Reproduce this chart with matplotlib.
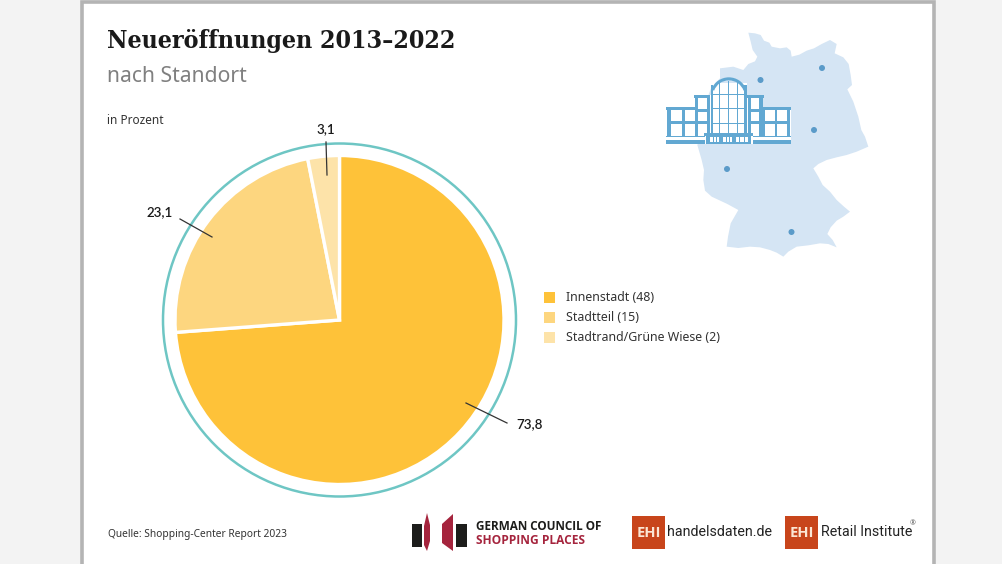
import matplotlib
matplotlib.use("Agg")
import matplotlib.pyplot as plt
from matplotlib.patches import Rectangle, Polygon, Circle, Wedge
from matplotlib.lines import Line2D

categories = ["Innenstadt (48)", "Stadtteil (15)", "Stadtrand/Grüne Wiese (2)"]
values = [73.8, 23.1, 3.1]
value_labels = ["73,8", "23,1", "3,1"]
colors = ["#fec239", "#fdd67f", "#fde3a9"]

W, H = 1003, 564
SANS = "Noto Sans"
fig = plt.figure(figsize=(W / 100, H / 100), dpi=100, facecolor="#f3f3f3")

bg = fig.add_axes([0, 0, 1, 1], zorder=0)
bg.set_xlim(0, W); bg.set_ylim(H, 0); bg.axis("off")
bg.add_patch(Rectangle((82.5, 1.5), 851.5, 570, fc="white", ec="#b4b4b4", lw=2.6))

# Pie
cx, cy, R = 339.5, 320.0, 164.5
ax = fig.add_axes([(cx - R) / W, 1 - (cy + R) / H, 2 * R / W, 2 * R / H], zorder=2)
ax.pie(values, colors=colors, startangle=90, counterclock=False, radius=1,
       wedgeprops=dict(edgecolor="white", linewidth=2.4))
ax.set_xlim(-1, 1); ax.set_ylim(-1, 1)

fg = fig.add_axes([0, 0, 1, 1], zorder=3)
fg.set_xlim(0, W); fg.set_ylim(H, 0); fg.axis("off"); fg.patch.set_alpha(0)

fg.add_patch(Circle((cx, cy), 176.5, fc="none", ec="#6ec6c4", lw=1.8))

# Titles
fg.text(107, 41, "Neueröffnungen 2013–2022", family="DejaVu Serif", stretch="condensed",
        weight="bold", fontsize=17.95, color="#1a1a1a", va="center", ha="left")
fg.text(107, 76, "nach Standort", family=SANS, fontsize=15.2, color="#808080", va="center")
fg.text(107, 121, "in Prozent", family=SANS, fontsize=8.5, color="#333333", va="center")
fg.text(108, 534.5, "Quelle: Shopping-Center Report 2023", family=SANS, fontsize=7.35,
        color="#333333", va="center")

# Value labels and leaders
leaders = [((466, 403), (507, 423)), ((180, 219), (212, 237)), ((326, 142), (327, 175))]
label_pos = [(516, 424), (147, 212), (316, 129)]
for txt, (a, b), (lx, ly) in zip(value_labels, leaders, label_pos):
    fg.add_line(Line2D([a[0], b[0]], [a[1], b[1]], color="#333333", lw=0.9))
    fg.text(lx, ly, txt, family="Lato", fontsize=9.6, weight=600, color="#1a1a1a", va="center")

# Legend
for i, (c, t) in enumerate(zip(colors, categories)):
    y = 297 + 20 * i
    fg.add_patch(Rectangle((544, y - 5.5), 11, 11, fc=c, ec="none"))
    fg.text(566, y + 0.5, t, family=SANS, fontsize=8.9, color="#333333", va="center")

# Germany silhouette (decoration; traced in zoom coordinates)
zoom_outline = [(325,38),(345,40),(362,45),(372,62),(388,68),(395,80),(420,85),(440,82),(452,92),
    (455,110),(478,104),(500,92),(522,85),(545,72),(570,60),(590,72),(584,100),(610,112),(626,132),
    (632,165),(636,195),(622,208),(640,245),(655,290),(664,330),(675,350),(685,380),(650,395),
    (620,405),(590,412),(560,420),(535,432),(520,445),(535,470),(548,495),(570,515),(590,540),
    (612,560),(630,575),(610,590),(590,602),(572,622),(562,642),(578,660),(590,682),(565,672),
    (540,670),(505,676),(470,680),(445,695),(430,710),(410,698),(390,690),(360,682),(330,680),
    (295,684),(260,680),(264,650),(272,610),(295,570),(262,552),(215,530),(195,512),(190,480),
    (192,450),(185,420),(172,375),(190,330),(180,290),(215,200),(240,175),(240,145),(280,140),
    (310,150),(325,132),(345,124),(352,110),(338,90),(332,65)]
outline = [(640 + x / 3, 20 + y / 3) for x, y in zoom_outline]
fg.add_patch(Polygon(outline, closed=True, fc="#d5e5f4", ec="none"))
for x, y in [(760.5, 80), (822, 68), (814, 130), (727, 169), (791.5, 232)]:
    fg.add_patch(Circle((x, y), 3, fc="#5b9bc9", ec="none"))

# Building icon, given in the crop's coordinates
B = "#62a8d2"
def z(x0, y0, x1, y1, c=B, o=4):
    fg.add_patch(Rectangle((640 + x0 / 3, 20 + y0 / 3), (x1 - x0) / 3, (y1 - y0) / 3,
                           fc=c, ec="none", zorder=o))
z(78, 262, 452, 372, "white", 4)
z(163, 226, 370, 350, "white", 4)
z(213, 190, 320, 350, "white", 4)
# wings
z(78, 262, 165, 271); z(370, 262, 452, 271)
z(82, 262, 94, 350); z(125, 262, 134, 350); z(365, 262, 374, 350); z(404, 262, 412, 350); z(441, 262, 450, 350)
z(85, 304, 165, 312); z(370, 304, 448, 312)
# towers
z(161, 226, 210, 234); z(322, 226, 371, 234)
z(164, 226, 175, 350); z(200, 226, 210, 350); z(323, 226, 332, 350); z(358, 226, 369, 350)
z(170, 268, 205, 275); z(326, 268, 362, 275); z(170, 304, 205, 312); z(326, 304, 362, 312)
# rotunda
z(213, 195, 220, 345); z(313, 195, 320, 345)
for x in (237, 264, 291):
    z(x, 182, x + 4, 345)
for y in (221, 264, 309):
    z(216, y, 318, y + 4)
fg.add_patch(Wedge((640 + 266.5 / 3, 20 + 228 / 3), 53 / 3 + 1.0, 200, 340, width=3.0,
                   fc=B, ec="none", zorder=4))
# base and entrance
z(78, 348, 195, 351); z(340, 348, 452, 351)
z(78, 360, 195, 372); z(340, 360, 452, 372)
z(193, 340, 338, 348)
z(198, 346, 206, 372); z(326, 346, 334, 372)
z(206, 348, 326, 352); z(206, 366, 326, 372)
for x in (206, 240, 246, 280, 286, 326):
    z(x - 3, 350, x + 3, 372)
for x in (218, 228, 258, 268, 298, 312):
    z(x, 350, x + 3, 368)

# Logos
def logo_rect(x, y, w, h, c):
    fg.add_patch(Rectangle((x, y), w, h, fc=c, ec="none", zorder=4))
logo_rect(412, 524, 10, 23, "#1d1d1b")
logo_rect(456, 524, 11, 23, "#1d1d1b")
fg.add_patch(Polygon([(424, 526), (427, 513), (430, 525), (430, 541), (427, 551), (424, 545)],
                     fc="#a5243d", ec="none", zorder=4))
fg.add_patch(Polygon([(442, 524), (453, 514), (453, 551), (442, 543)],
                     fc="#a5243d", ec="none", zorder=4))
fg.text(476, 527, "GERMAN COUNCIL OF", family="Open Sans", weight="bold", fontsize=8.5,
        color="#1d1d1b", va="center", zorder=5)
fg.text(476, 540, "SHOPPING PLACES", family="Open Sans", weight="bold", fontsize=8.6,
        color="#a5243d", va="center", zorder=5)
for x, label, lx, fs in [(632, "handelsdaten.de", 667, 10.3), (785, "Retail Institute", 821, 10.3)]:
    logo_rect(x, 516, 33, 33, "#c8451b")
    fg.text(x + 16.5, 533, "EHI", family="Open Sans", weight="bold", fontsize=10.5,
            color="#fbe6d4", ha="center", va="center", zorder=5)
    fg.text(lx, 532.5, label, family="Roboto", fontsize=fs, color="#222222",
            va="center", zorder=5)
fg.text(910, 524, "®", family=SANS, fontsize=5, color="#555555", va="center", zorder=5)

fig.savefig("out.png", dpi=100, facecolor=fig.get_facecolor())
